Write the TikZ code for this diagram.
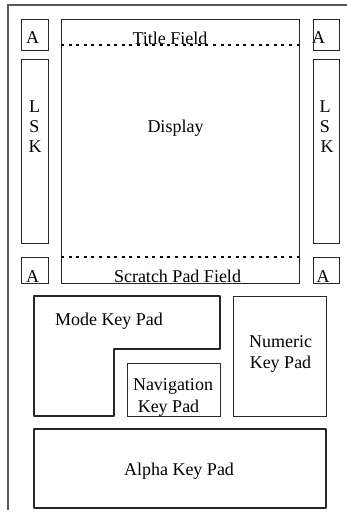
\documentclass[tikz,border=0pt]{standalone}
\usepackage{fontspec}
\setmainfont{Liberation Serif}
\begin{document}
\begin{tikzpicture}[x=1pt,y=-1pt,
  thinbox/.style={draw=black!85,line width=0.9pt},
  thickbox/.style={draw=black!85,line width=1.6pt,line join=round},
  frame/.style={draw=black!65,line width=1.5pt},
  dotline/.style={draw=black,line width=1.4pt,dash pattern=on 3pt off 4.6pt},
  lbl/.style={anchor=base,inner sep=0pt,font=\fontsize{18}{21}\selectfont}]
\useasboundingbox (0,0) rectangle (347,517);
% outer frame
\draw[frame] (347,5) -- (8,5) -- (8,510);
% A boxes and LSK
\draw[thinbox] (21,19) rectangle (48,50);
\draw[thinbox] (313,19) rectangle (339,50);
\draw[thinbox] (21,59) rectangle (48,243);
\draw[thinbox] (313,59) rectangle (339,243);
\draw[thinbox] (21,257) rectangle (48,283);
\draw[thinbox] (313,257) rectangle (339,283);
% display
\draw[thinbox] (61,19) rectangle (299,283);
\draw[dotline] (61,45) -- (299,45);
\draw[dotline] (61,257) -- (299,257);
% key pads
\draw[thickbox] (34,296) -- (220,296) -- (220,349) -- (114,349) -- (114,416) -- (34,416) -- cycle;
\draw[thinbox] (127,363) rectangle (220,416);
\draw[thinbox] (233,296) rectangle (326,416);
\draw[thickbox] (34,429) rectangle (326,508);
% labels
\node[lbl] (title) at (170,44) {Title Field};
\node[lbl] (disp) at (175.5,132) {Display};
\node[lbl] (scratch) at (177.5,282) {Scratch Pad Field};
\node[lbl] (atl) at (32.5,43) {A};
\node[lbl] (atr) at (318.5,43) {A};
\node[lbl] (abl) at (32.5,282) {A};
\node[lbl] (abr) at (323,282) {A};
\node[lbl] (l1) at (34.5,112) {L};
\node[lbl] (s1) at (34.5,132) {S};
\node[lbl] (k1) at (35,152) {K};
\node[lbl] (l2) at (325,112) {L};
\node[lbl] (s2) at (325,132) {S};
\node[lbl] (k2) at (327,152) {K};
\node[lbl] (mode) at (109,325) {Mode Key Pad};
\node[lbl] (nav1) at (173,390) {Navigation};
\node[lbl] (nav2) at (168.5,412) {Key Pad};
\node[lbl] (num1) at (280.5,347) {Numeric};
\node[lbl] (num2) at (280.5,368) {Key Pad};
\node[lbl] (alpha) at (179,475) {Alpha Key Pad};
\end{tikzpicture}
\end{document}
